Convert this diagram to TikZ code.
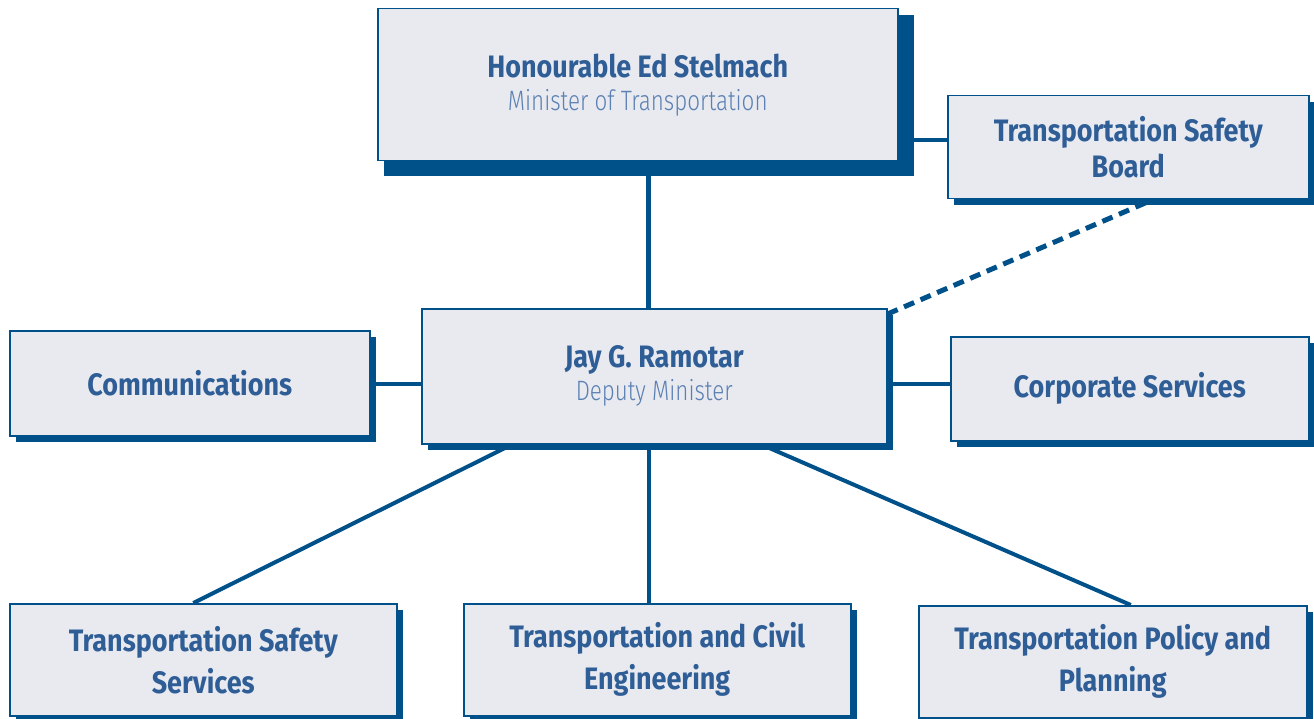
\documentclass[tikz,border=0pt]{standalone}
\usepackage{fontspec}
\setmainfont[FakeStretch=0.87]{Fira Sans}
\newfontfamily\lightfont[FakeStretch=0.80]{Fira Sans Light}
\usetikzlibrary{shadows,backgrounds}
\definecolor{dk}{HTML}{00518A}
\definecolor{bx}{HTML}{E8EAF0}
\definecolor{tx}{HTML}{2F5E97}
\definecolor{subc}{HTML}{5B80B2}
\tikzset{
  plainbox/.style={draw=dk, line width=1.5pt, fill=bx, anchor=north west, inner sep=0pt,
    align=center, text=tx, font=\fontsize{31}{38}\selectfont\bfseries},
  box/.style={plainbox, drop shadow={shadow xshift=6pt, shadow yshift=-6pt, fill=dk, opacity=1}},
  conn/.style={draw=dk, line width=4pt},
  dconn/.style={conn, line width=5pt, dash pattern=on 11pt off 7pt}
}
\newcommand{\subt}[1]{{\lightfont\mdseries\fontsize{28}{34}\selectfont\color{subc}#1}}
\begin{document}
\begin{tikzpicture}[x=1pt,y=-1pt]
\useasboundingbox (0,0) rectangle (1314,719);
\node[plainbox, minimum width=520pt, minimum height=152pt] (top) at (377,8) {Honourable Ed Stelmach\\[-5pt]\subt{Minister of Transportation}};
\node[box, minimum width=361pt, minimum height=103pt] (tsb) at (947,95) {Transportation Safety\\[-2pt]Board};
\node[box, minimum width=465pt, minimum height=135pt] (jay) at (421,308) {Jay G. Ramotar\\[-5pt]\subt{Deputy Minister}};
\node[box, minimum width=360pt, minimum height=105pt] (comm) at (9,330) {Communications};
\node[box, minimum width=358pt, minimum height=104pt] (corp) at (950,336) {Corporate Services};
\node[box, minimum width=387pt, minimum height=112pt] (tss) at (9,603) {Transportation Safety\\[4pt]Services};
\node[box, minimum width=387pt, minimum height=112pt] (tce) at (463,603) {Transportation and Civil\\[4pt]Engineering};
\node[box, minimum width=388pt, minimum height=112pt] (tpp) at (918,605) {Transportation Policy and\\[4pt]Planning};
\begin{scope}[on background layer]
\draw[conn, line width=5pt] ([xshift=11pt]top.south) -- ([xshift=11pt]top.south |- jay.north);
\draw[conn] (top.east |- 0,140) -- (tsb.west |- 0,140);
\draw[conn] (comm.east |- 0,384) -- (jay.west |- 0,384);
\draw[conn] (jay.east |- 0,384) -- (corp.west |- 0,384);
\draw[dconn] ([yshift=-6pt]jay.north east) -- ([xshift=25pt]tsb.south);
\draw[conn] ([xshift=91pt]jay.south west) -- ([xshift=-10pt]tss.north);
\draw[conn] ([xshift=-5pt]jay.south) -- ([xshift=-8pt]tce.north);
\draw[conn] ([xshift=107pt]jay.south) -- ([xshift=18pt]tpp.north);
\fill[dk] ([shift={(7pt,-7pt)}]top.north west) rectangle ([shift={(15pt,-15pt)}]top.south east);
\end{scope}
\end{tikzpicture}
\end{document}
